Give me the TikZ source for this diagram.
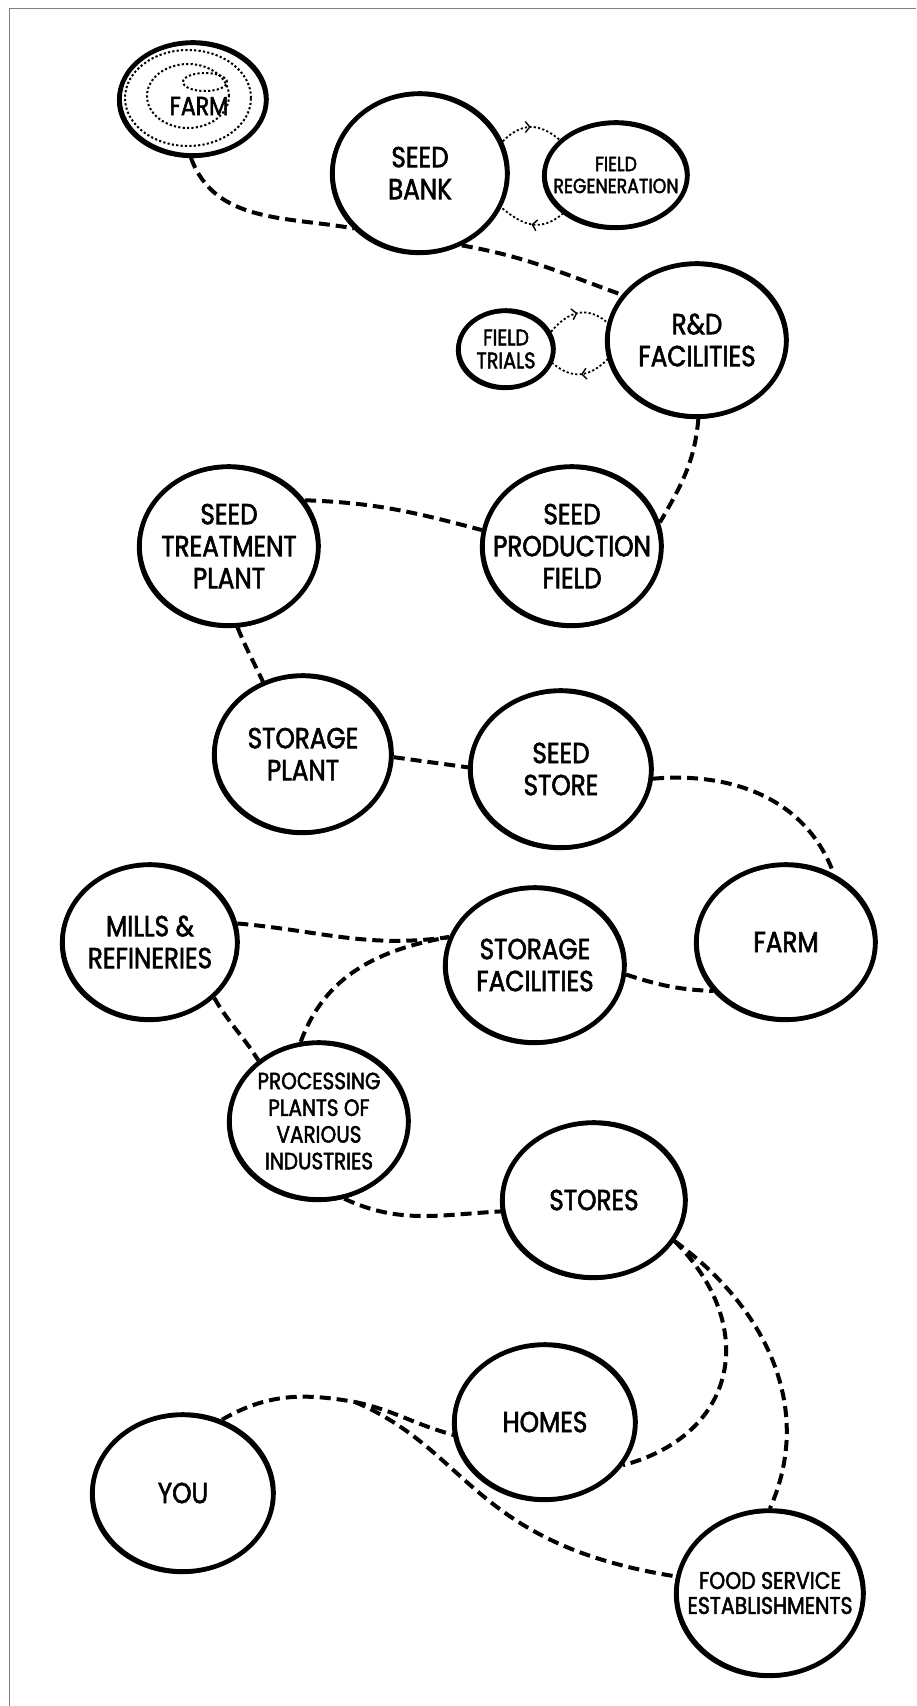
\documentclass[tikz,border=0pt]{standalone}
\usepackage{fontspec}
\setmainfont{Poppins}[FakeStretch=0.85,FakeBold=2]
\usetikzlibrary{shapes.geometric,arrows.meta,decorations.markings}

\begin{document}
\begin{tikzpicture}[x=1pt,y=-1pt,
            main node/.style={ellipse,draw,line width=4.6pt,fill=white,inner sep=-20pt,align=center,
                font=\fontsize{29}{32}\selectfont,
                postaction={draw,line width=2.4pt,transform canvas={shift={(-1.4pt,-1.4pt)}}}},
            path link/.style={line width=4pt,dash pattern=on 11pt off 6pt},
            cycle link/.style={line width=1.8pt,dash pattern=on 2.2pt off 2.2pt,postaction={decorate},
                decoration={markings,mark=at position 0.5 with {\arrow{Straight Barb[length=4.5pt,width=11pt,line width=1.4pt]}}}},
            spiral dots/.style={line width=2pt,dash pattern=on 2.2pt off 2.2pt},
            ]
            \useasboundingbox (0,0) rectangle (916,1706);
            \draw[gray,line width=1pt] (9.5,1706) -- (9.5,8.5) -- (916,8.5);

            \node[main node,minimum width=147pt,minimum height=113pt] (1) at (193,99) {};
            \draw[spiral dots] (188,98) ellipse [x radius=63pt,y radius=48pt];
            \draw[spiral dots] (188,96) ellipse [x radius=41pt,y radius=32pt];
            \draw[spiral dots] (205,82) ellipse [x radius=22pt,y radius=9pt];
            \node[font=\fontsize{26}{28}\selectfont] (1t) at (199,106) {FARM};
            \node[main node,minimum width=175pt,minimum height=159pt] (2) at (420,173) {SEED\\BANK};
            \node[main node,minimum width=143pt,minimum height=105pt,font=\fontsize{20.5}{22}\selectfont] (3) at (616,175) {FIELD\\REGENERATION};
            \node[main node,minimum width=179pt,minimum height=153pt] (4) at (697,340) {R\&D\\FACILITIES};
            \node[main node,minimum width=95pt,minimum height=77pt,font=\fontsize{22.5}{23}\selectfont] (5) at (506,349) {FIELD\\TRIALS};
            \node[main node,minimum width=179pt,minimum height=159pt] (6) at (572,546) {SEED\\PRODUCTION\\FIELD};
            \node[main node,minimum width=179pt,minimum height=159pt] (7) at (229,546) {SEED\\TREATMENT\\PLANT};
            \node[main node,minimum width=177pt,minimum height=157pt] (8) at (303,754) {STORAGE\\PLANT};
            \node[main node,minimum width=181pt,minimum height=157pt] (9) at (561,769) {SEED\\STORE};
            \node[main node,minimum width=179pt,minimum height=155pt] (10) at (786,942) {FARM};
            \node[main node,minimum width=179pt,minimum height=155pt] (11) at (535,965) {STORAGE\\FACILITIES};
            \node[main node,minimum width=175pt,minimum height=155pt] (12) at (150,942) {MILLS \&\\REFINERIES};
            \node[main node,minimum width=179pt,minimum height=157pt,font=\fontsize{23.5}{26.7}\selectfont] (13) at (319,1121) {PROCESSING\\PLANTS OF\\VARIOUS\\INDUSTRIES};
            \node[main node,minimum width=183pt,minimum height=155pt] (14) at (594,1200) {STORES};
            \node[main node,minimum width=181pt,minimum height=155pt] (15) at (545,1422) {HOMES};
            \node[main node,minimum width=187pt,minimum height=165pt,font=\fontsize{24}{25}\selectfont] (16) at (770,1593) {FOOD SERVICE\\ESTABLISHMENTS};
            \node[main node,minimum width=181pt,minimum height=157pt] (17) at (183,1493) {YOU};
            \coordinate (fork) at (355,1402);

            \draw[path link] (1.-92) to[out=-70,in=170] (2.-140);
            \draw[path link] (2.-60) to[out=-10,in=160] (4.149);
            \draw[cycle link] (2.21) to[out=45,in=140,looseness=1.2] (3.148);
            \draw[cycle link] (3.-144) to[out=-140,in=-40,looseness=1.2] (2.-23);
            \draw[cycle link] (5.21) to[out=50,in=140,looseness=1.2] (4.169);
            \draw[cycle link] (4.-168) to[out=-135,in=-40,looseness=1.2] (5.-17);
            \draw[path link] (4.-89) to[out=-95,in=60] (6.15);
            \draw[path link] (7.31) to[out=-2,in=165] (6.170);
            \draw[path link] (7.-84) to[out=-68,in=115] (8.119);
            \draw[path link] (8.-2) to[out=-8,in=172] (9.179);
            \draw[path link] (9.-6) to[out=5,in=110] (10.55);
            \draw[path link] (12.12) to[out=-5,in=188] (11.162);
            \draw[path link] (13.103) to[out=70,in=190] (11.162);
            \draw[path link] (11.-6) to[out=-18,in=178] (10.-146);
            \draw[path link] (12.-41) to[out=-60,in=122] (13.135);
            \draw[path link] (13.-72) to[out=-25,in=183] (14.187);
            \draw[path link] (14.-27) to[out=-45,in=15,looseness=1.33] (15.-29);
            \draw[path link] (14.-27) to[out=-36,in=66] (16.90);
            \draw[path link] (17.62) to[out=30,in=170] (fork);
            \draw[path link] (fork) to[out=-12,in=165] (15.188);
            \draw[path link] (fork) .. controls +(-23:125pt) and +(171:206pt) .. (16.170);
        \end{tikzpicture}
\end{document}
